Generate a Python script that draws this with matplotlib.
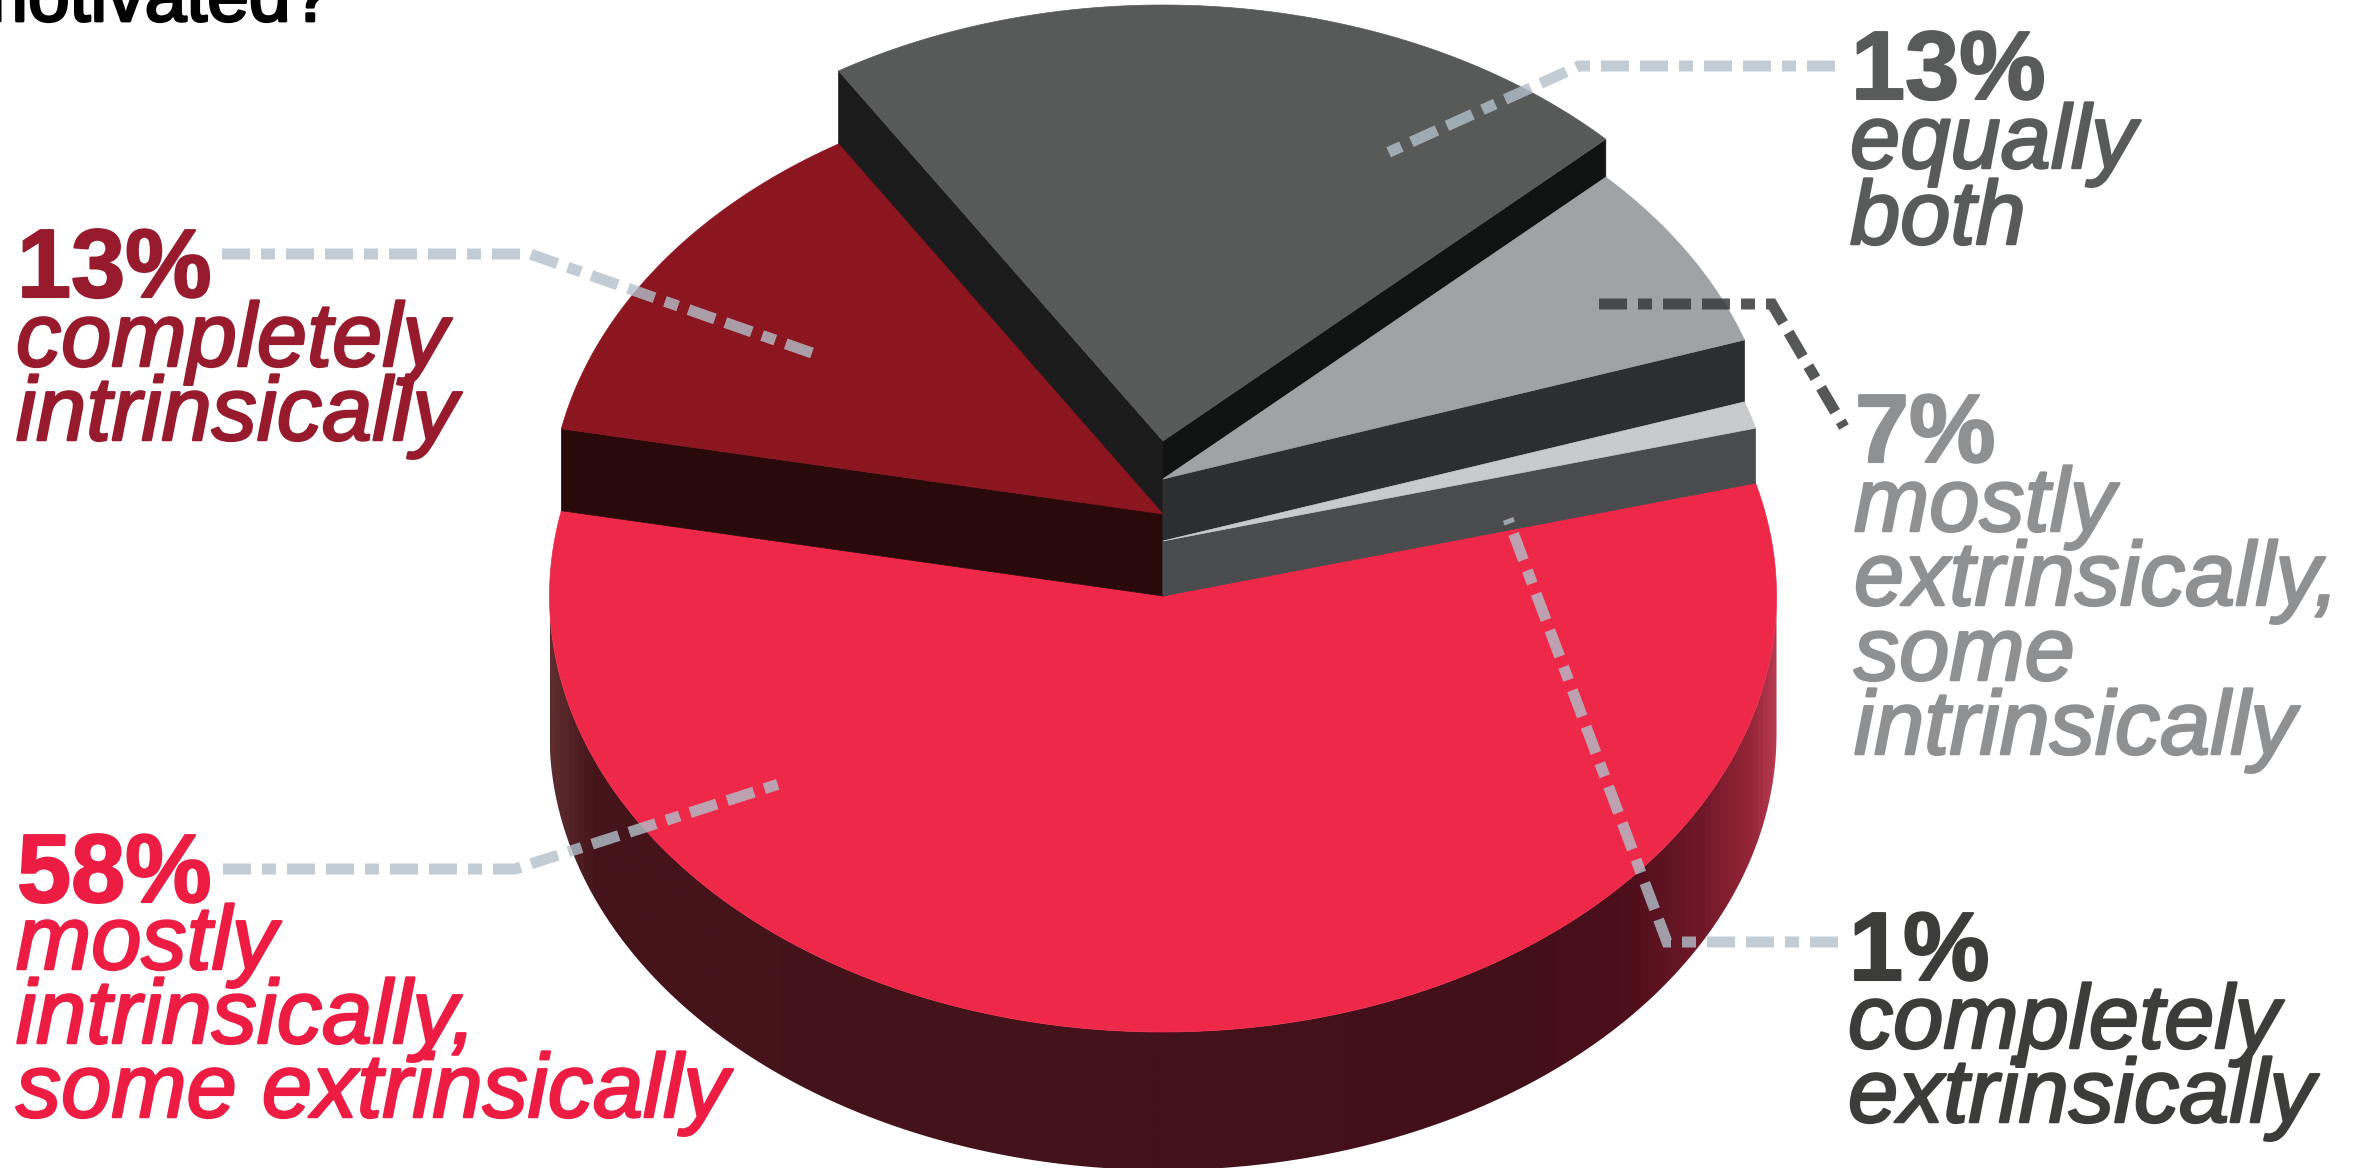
import matplotlib
matplotlib.use('Agg')
import matplotlib.pyplot as plt
import matplotlib.patheffects as pe
import numpy as np
from matplotlib.colors import LinearSegmentedColormap
from matplotlib.patches import Polygon

plt.rcParams['font.family'] = ['Liberation Sans', 'DejaVu Sans']
plt.rcParams['lines.scale_dashes'] = False

# Slices, counter-clockwise from the right-hand edge of the big red one
pct_labels = ['1%', '7%', '13%', '13%', '58%']
name_lines = [['completely', 'extrinsically'],
              ['mostly', 'extrinsically,', 'some', 'intrinsically'],
              ['equally', 'both'],
              ['completely', 'intrinsically'],
              ['mostly', 'intrinsically,', 'some extrinsically']]
# "equally both" is printed as 13% but sweeps about 21.7% of the circle
shares = [1, 7, 21.7, 13, 58]

top_colors = ['#c9cacc', '#a0a3a5', '#585a59', '#8b1620', '#ee2849']
low_face_colors = ['#4a4b4d', '#2d2e30', '#111212', '#2a090b', '#43101a']
high_face_colors = ['#4a4b4d', '#2d2e30', '#1a1b1a', '#2a090b', '#43101a']
text_colors = ['#3c3c3b', '#8f9091', '#595a5a', '#981b2d', '#ec1c42']
lifts = [55, 117, 155, 82, 0]  # how far each slice is raised, px
draw_order = [4, 2, 3, 1, 0]  # red floor first, raised slices over it

# pie geometry in pixels
cx, cy = 1163, 596
rx, ry = 613.5, 436
depth = 138
start_angle = 15

# text anchors: x, baseline of the number, then baselines of the name lines
text_x = [1849, 1855, 1851, 17, 17]
number_y = [980, 462, 99, 297, 902]
line_y = [[1048, 1122], [531, 605, 680, 754], [168, 244], [366, 440], [969, 1043, 1117]]

leaders = [
    ([1838, 1667, 1508], [942, 942, 519], '#b2c0cb', 0.8),
    ([1599, 1772, 1844], [304, 304, 427], '#38393a', 0.85),
    ([1835, 1579, 1387], [66, 66, 153], '#b2c0cb', 0.8),
    ([222, 530, 812], [254, 254, 353], '#b2c0cb', 0.8),
    ([223, 515, 782], [869, 869, 783], '#b2c0cb', 0.8),
]
dash_px = np.array([28, 11, 14, 11, 28, 11])


def rim(angle, lift=0):
    a = np.radians(angle)
    return cx + rx * np.cos(a), cy - lift - ry * np.sin(a)


def face(angle, lift, color, ax, z):
    # flat cut side of a raised slice, from its top down to the red surface
    x, y = rim(angle, lift)
    pts = [(cx, cy - lift), (x, y), (x, y + lift), (cx, cy)]
    ax.add_patch(Polygon(pts, closed=True, fc=color, ec=color, lw=0.5, zorder=z))


fig = plt.figure(figsize=(23.58, 11.68), dpi=100, facecolor='white')
ax = fig.add_axes([0, 0, 1, 1])

# outer wall of the pie, shaded from left to right
t = np.linspace(180, 360, 200)
wall_x = cx + rx * np.cos(np.radians(t))
wall_y = cy - ry * np.sin(np.radians(t))
wall_pts = np.vstack([np.column_stack([wall_x, wall_y]),
                      np.column_stack([wall_x[::-1], wall_y[::-1] + depth])])
wall = Polygon(wall_pts, closed=True, fc='none', ec='none', transform=ax.transData)
ax.add_patch(wall)
stops = [(0.0, '#5c2c2e'), (0.035, '#45151a'), (0.8, '#43101a'), (0.88, '#4e0f1a'),
         (0.94, '#701828'), (0.98, '#952538'), (1.0, '#b53a50')]
wall_cmap = LinearSegmentedColormap.from_list('wall', stops)
img = ax.imshow(np.linspace(0, 1, 512)[None, :], cmap=wall_cmap, aspect='auto',
                extent=(cx - rx, cx + rx, cy + ry + depth, cy), zorder=1)
img.set_clip_path(wall)
ax.set_xlim(0, 2358)
ax.set_ylim(1168, 0)
ax.axis('off')

# angles of the slice edges come straight from the shares
edges = start_angle + np.cumsum([0] + shares) * 3.6

for n, i in enumerate(draw_order):
    lift = lifts[i]
    z = 2 + n * 0.1
    if lift > 0:
        face(edges[i + 1], lift, high_face_colors[i], ax, z)
        face(edges[i], lift, low_face_colors[i], ax, z)
    arc = np.linspace(edges[i], edges[i + 1], 240)
    top_pts = [(cx, cy - lift)] + [rim(a, lift) for a in arc]
    ax.add_patch(Polygon(top_pts, closed=True, fc=top_colors[i], ec=top_colors[i],
                         lw=0.5, zorder=z + 0.05))

# dash-dot leader lines
dash_pt = tuple(dash_px * 72 / 100)
for xs, ys, color, alpha in leaders:
    ax.plot(xs, ys, color=color, alpha=alpha, lw=11 * 72 / 100, linestyle=(0, dash_pt),
            dash_capstyle='butt', dash_joinstyle='miter', zorder=5)

# labels, thickened a little with a stroke in their own colour
for i in range(len(pct_labels)):
    num = ax.text(text_x[i], number_y[i], pct_labels[i], color=text_colors[i], fontsize=70,
                  fontweight='bold', va='baseline', ha='left', zorder=6)
    num.set_path_effects([pe.withStroke(linewidth=1.5, foreground=text_colors[i])])
    for line, y in zip(name_lines[i], line_y[i]):
        txt = ax.text(text_x[i] - 1, y, line, color=text_colors[i], fontsize=65, style='italic',
                      va='baseline', ha='left', zorder=6)
        txt.set_path_effects([pe.withStroke(linewidth=1.8, foreground=text_colors[i])])

# last line of the heading, running off the top of the canvas
head = ax.text(332, 21, 'motivated?', color='black', fontsize=54,
               va='baseline', ha='right', zorder=6)
head.set_path_effects([pe.withStroke(linewidth=2, foreground='black')])

fig.savefig('out.png', dpi=100, facecolor='white')
